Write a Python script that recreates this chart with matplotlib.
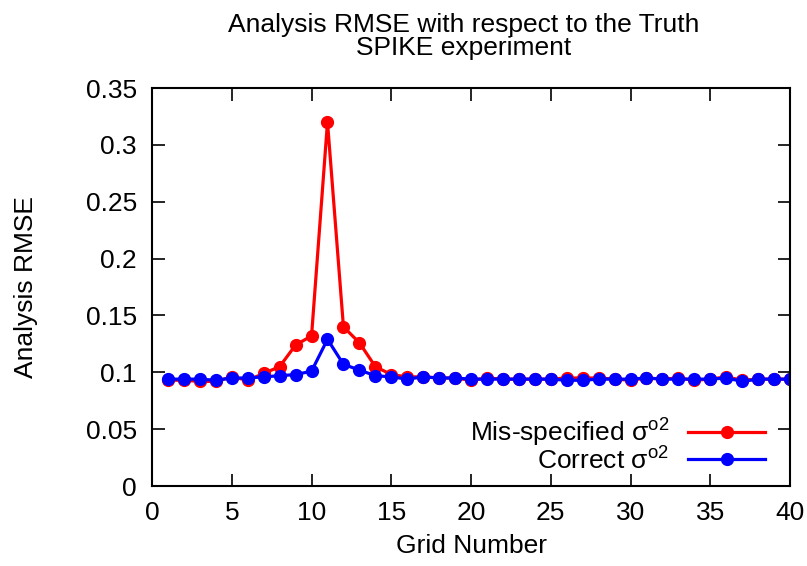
#!/usr/bin/env python3
import matplotlib
matplotlib.use('Agg')
import matplotlib.pyplot as plt

grid = list(range(1, 41))

# Mis-specified observation error variance
rmse_misspec = [0.093, 0.093, 0.092, 0.092, 0.096, 0.093, 0.099, 0.105, 0.124, 0.132,
                0.320, 0.140, 0.126, 0.105, 0.098, 0.096, 0.096, 0.095, 0.095, 0.093,
                0.095, 0.094, 0.094, 0.094, 0.094, 0.095, 0.095, 0.095, 0.094, 0.093,
                0.095, 0.094, 0.095, 0.093, 0.094, 0.096, 0.093, 0.094, 0.094, 0.094]

# Correct observation error variance
rmse_correct = [0.094, 0.094, 0.094, 0.093, 0.095, 0.095, 0.096, 0.097, 0.098, 0.101,
                0.129, 0.107, 0.102, 0.097, 0.096, 0.094, 0.096, 0.095, 0.095, 0.094,
                0.094, 0.094, 0.094, 0.094, 0.094, 0.093, 0.093, 0.094, 0.094, 0.094,
                0.095, 0.094, 0.094, 0.094, 0.094, 0.095, 0.092, 0.094, 0.094, 0.094]

xticks = list(range(0, 41, 5))
yticks = [0, 0.05, 0.1, 0.15, 0.2, 0.25, 0.3, 0.35]
ytick_labels = ['0', '0.05', '0.1', '0.15', '0.2', '0.25', '0.3', '0.35']

plt.rcParams['font.family'] = ['Liberation Sans', 'DejaVu Sans']
plt.rcParams['mathtext.fontset'] = 'custom'
plt.rcParams['mathtext.rm'] = 'Liberation Sans'

fs = 19

fig = plt.figure(figsize=(8.07, 5.66), dpi=100)
ax = fig.add_axes([0.1884, 0.1413, 0.7906, 0.7032])

ax.plot(grid, rmse_misspec, color='#ff0000', lw=2.3, marker='o', ms=8.5,
        label='Mis-specified \u03c3$^{\\mathrm{o2}}$')
ax.plot(grid, rmse_correct, color='#0000ff', lw=2.3, marker='o', ms=8.5,
        label='Correct \u03c3$^{\\mathrm{o2}}$')

ax.set_xlim(0, 40)
ax.set_ylim(0, 0.35)
ax.set_xticks(xticks)
ax.set_yticks(yticks)
ax.set_yticklabels(ytick_labels)
ax.tick_params(direction='in', length=9, width=1.2, top=True, right=True,
               labelsize=fs)
ax.tick_params(axis='y', pad=11)
ax.tick_params(axis='x', pad=11)
for s in ax.spines.values():
    s.set_linewidth(1.5)

ax.set_xlabel('Grid Number', fontsize=fs, labelpad=6)
ax.set_ylabel('Analysis RMSE', fontsize=fs, labelpad=34)
ax.set_title('Analysis RMSE with respect to the Truth\nSPIKE experiment',
             fontsize=fs, linespacing=0.95, pad=24, x=0.488)

ax.legend(loc='lower right', bbox_to_anchor=(0.978, 0.005), frameon=False,
          markerfirst=False, fontsize=fs, handlelength=2.95, handletextpad=0.7,
          labelspacing=-0.1, borderaxespad=0.0)

fig.savefig('out.png', dpi=100)
